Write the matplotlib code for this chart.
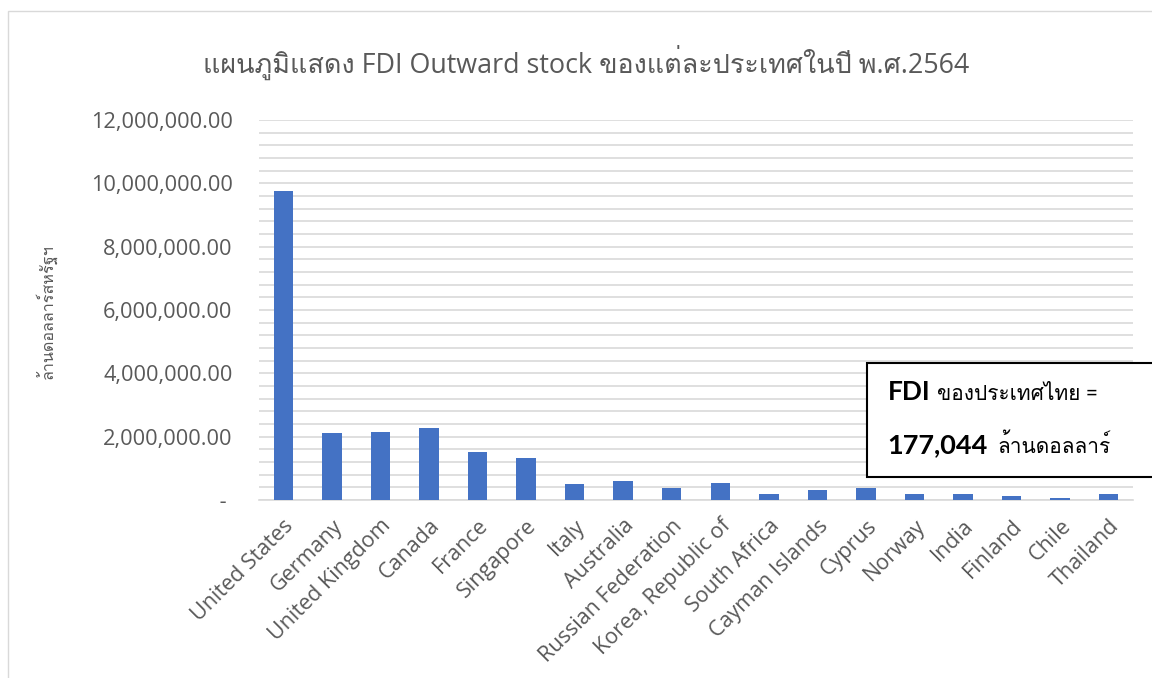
import matplotlib.pyplot as plt
from matplotlib import font_manager
from matplotlib.ft2font import FT2Font
from matplotlib.patches import Rectangle
from matplotlib.ticker import MultipleLocator, FuncFormatter

# data (million USD)
countries = ['United States', 'Germany', 'United Kingdom', 'Canada', 'France',
             'Singapore', 'Italy', 'Australia', 'Russian Federation',
             'Korea, Republic of', 'South Africa', 'Cayman Islands', 'Cyprus',
             'Norway', 'India', 'Finland', 'Chile', 'Thailand']
fdi_stock = [9770000, 2110000, 2140000, 2260000, 1520000,
             1330000, 505000, 590000, 380000,
             530000, 200000, 320000, 390000,
             180000, 190000, 126000, 63000, 177044]

title = 'แผนภูมิแสดง FDI Outward stock ของแต่ละประเทศในปี พ.ศ.2564'
ylabel = 'ล้านดอลลาร์สหรัฐฯ'

# find a font that has Thai glyphs, used as fallback after the latin font
thai_font = None
for f in font_manager.fontManager.ttflist:
    try:
        if 0x0E01 in FT2Font(f.fname).get_charmap():
            thai_font = f.name
            break
    except Exception:
        pass
fams = ['Open Sans'] + ([thai_font] if thai_font else []) + ['DejaVu Sans']
box_fams = ['Lato'] + ([thai_font] if thai_font else []) + ['DejaVu Sans']
plt.rcParams['font.family'] = fams

grey = '#595959'
W, H = 1152, 678
fig = plt.figure(figsize=(W / 100, H / 100), dpi=100)
ax = fig.add_axes([259 / W, 1 - 500 / H, (1133 - 259) / W, 380 / H])

x = range(len(countries))
ax.bar(x, fdi_stock, width=0.4, color='#4472C4', zorder=3)

ax.set_xlim(-0.5, len(countries) - 0.5)
ax.set_ylim(0, 12000000)
ax.yaxis.set_major_locator(MultipleLocator(2000000))
ax.yaxis.set_minor_locator(MultipleLocator(400000))
ax.yaxis.set_major_formatter(FuncFormatter(lambda v, p: ' - ' if v == 0 else f'{v:,.2f}'))
ax.grid(axis='y', which='both', color='#d9d9d9', lw=1.2, zorder=0)
ax.tick_params(axis='both', which='both', length=0, colors=grey)
ax.tick_params(axis='y', labelsize=15.7, pad=19)
ax.set_xticks(list(x))
ax.set_xticklabels(countries, rotation=45, ha='right', rotation_mode='anchor', fontsize=15.5)
ax.tick_params(axis='x', pad=11)
for s in ['top', 'right', 'left']:
    ax.spines[s].set_visible(False)
ax.spines['bottom'].set_color('#d9d9d9')
ax.spines['bottom'].set_linewidth(1.2)

fig.text(586 / W, 1 - 62 / H, title, ha='center', va='center', fontsize=19.4, color=grey)
fig.text(46 / W, 1 - 312 / H, ylabel, rotation=90, ha='center', va='center', fontsize=11.6, color=grey)

# chart area border
fig.patches.append(Rectangle((8 / W, -0.1), 1.2, 1 - 11 / H + 0.1, transform=fig.transFigure,
                             fill=False, ec='#d9d9d9', lw=1))

# annotation box
fig.patches.append(Rectangle((867 / W, 1 - 477 / H), (1160 - 867) / W, 114 / H,
                             transform=fig.transFigure, fc='white', ec='black', lw=1.5, zorder=5))
fig.text(888 / W, 1 - 400 / H, 'FDI', fontsize=19, family=box_fams, weight='bold', va='baseline', zorder=6)
fig.text(937 / W, 1 - 400 / H, 'ของประเทศไทย =', fontsize=15, family=box_fams, va='baseline', zorder=6)
fig.text(887 / W, 1 - 453 / H, '177,044', fontsize=19.5, family=box_fams, weight='bold', va='baseline', zorder=6)
fig.text(997 / W, 1 - 453 / H, 'ล้านดอลลาร์', fontsize=15, family=box_fams, va='baseline', zorder=6)

plt.savefig('out.png', dpi=100)
